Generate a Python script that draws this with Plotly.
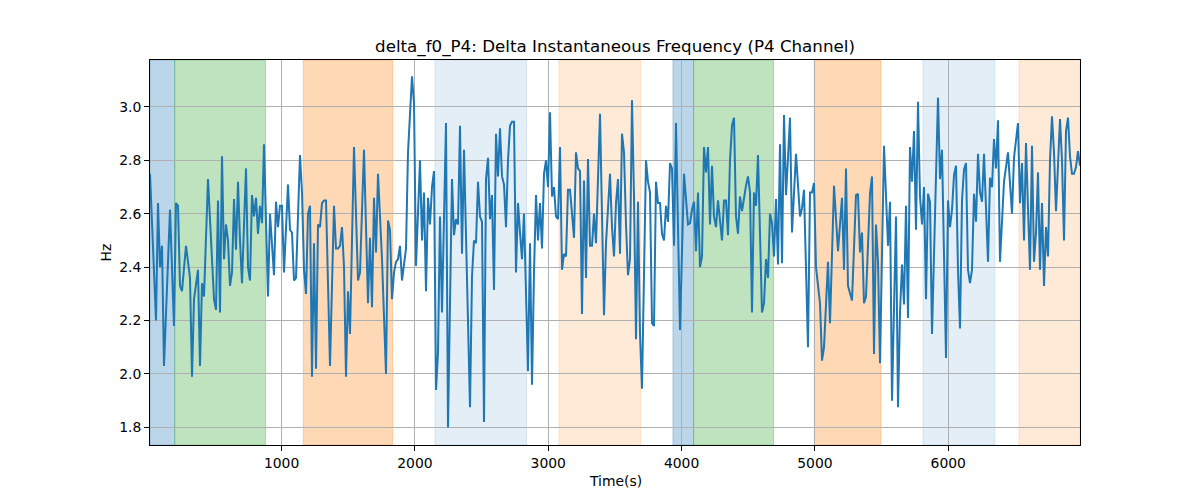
import plotly.graph_objects as go

# --- data ---
time_s = [
    13, 58, 73, 88, 103, 118, 163, 193, 208, 223, 238, 253, 283, 313, 328, 343, 373, 388, 403, 418,
    448, 493, 508, 523, 538, 553, 568, 583, 598, 613, 628, 643, 658, 673, 688, 703,
    733, 748, 763, 778, 793, 808, 823, 838, 853, 868, 898, 913, 943, 958, 973, 988, 1003, 1018, 1048, 1063,
    1078, 1093, 1108, 1138, 1153, 1168, 1183, 1198, 1213, 1228, 1243, 1258, 1273, 1288, 1303, 1318, 1333, 1363, 1393,
    1408, 1423, 1438, 1453, 1468, 1483, 1498, 1513, 1543, 1573, 1588, 1618, 1648, 1663, 1678, 1693, 1708, 1723, 1753, 1783,
    1798, 1813, 1828, 1843, 1858, 1873, 1888, 1903, 1933, 1948, 1978, 1993, 2008, 2038, 2053, 2068, 2083,
    2098, 2113, 2128, 2143, 2158, 2173, 2188, 2203, 2233, 2248, 2278, 2293, 2308, 2323, 2338, 2353, 2368, 2413, 2428, 2443,
    2458, 2473, 2488, 2503, 2518, 2533, 2548, 2563, 2578, 2593, 2608, 2623, 2638, 2653, 2668, 2683, 2698, 2713, 2728, 2743,
    2758, 2773,
    2788, 2803, 2818, 2833, 2848, 2863, 2878, 2893, 2908, 2923, 2938, 2953, 2968, 2983, 2998, 3013, 3028, 3043, 3058, 3073,
    3088, 3103, 3118, 3133, 3148, 3163, 3178, 3193, 3208, 3223, 3238, 3253, 3268, 3283, 3298, 3313, 3328, 3343, 3358, 3388,
    3418, 3433, 3463,
    3478, 3493, 3508, 3523, 3538, 3553, 3568, 3583, 3598, 3613, 3628, 3643, 3658, 3673, 3688, 3703, 3733, 3748, 3763, 3778,
    3793, 3808, 3823, 3838, 3853, 3868, 3883, 3898, 3913, 3928, 3943, 3958, 3988, 4018, 4048, 4063, 4078, 4093, 4108, 4123,
    4138,
    4153, 4168, 4183, 4198, 4213, 4228, 4243, 4258, 4273, 4303, 4318, 4333, 4348, 4363, 4378, 4393, 4408, 4423, 4438, 4453,
    4483, 4498, 4513, 4528, 4543, 4558, 4573, 4603, 4618, 4633, 4648, 4663, 4678, 4693, 4708, 4723, 4738, 4753, 4768, 4783,
    4798, 4813, 4828,
    4858, 4888, 4903, 4918, 4933, 4948, 4963, 4978, 4993, 5008, 5038, 5053, 5068, 5098, 5113, 5143, 5173, 5203, 5218, 5233,
    5248, 5278, 5308, 5323, 5338, 5353, 5368, 5383, 5413, 5428, 5443, 5458, 5473, 5488, 5518,
    5548, 5563, 5578, 5608, 5623, 5638, 5653, 5668, 5683, 5698, 5713, 5728, 5743, 5758, 5773, 5788, 5803, 5818, 5833, 5848,
    5863, 5878, 5923, 5938, 5953, 5983, 5998, 6013, 6028, 6043, 6058, 6073, 6088, 6103, 6118, 6133, 6148, 6163, 6178, 6193,
    6208, 6223,
    6238, 6253, 6268, 6298, 6313, 6328, 6343, 6358, 6373, 6388, 6418, 6448, 6478, 6493, 6523, 6538, 6553, 6568, 6583, 6598,
    6613, 6628, 6643, 6658, 6673, 6688, 6703, 6718, 6733, 6748, 6763, 6778, 6793, 6808, 6823, 6838, 6853, 6868, 6883, 6898,
    6913, 6928, 6943, 6958, 6973, 6988,
]

delta_hz = [
    2.75, 2.20, 2.64, 2.40, 2.48, 2.03, 2.615, 2.18, 2.64, 2.63, 2.33, 2.31, 2.48, 2.36, 1.99, 2.28, 2.39, 2.03, 2.34, 2.29,
    2.73, 2.28, 2.24, 2.65, 2.23, 2.815, 2.43, 2.56, 2.50, 2.33, 2.38, 2.655, 2.465, 2.72, 2.50, 2.34,
    2.77, 2.40, 2.35, 2.67, 2.59, 2.66, 2.525, 2.63, 2.565, 2.86, 2.29, 2.60, 2.37, 2.645, 2.55, 2.63, 2.63, 2.38, 2.71, 2.54,
    2.53, 2.35, 2.36, 2.82, 2.68, 2.39, 2.30, 2.60, 2.63, 1.99, 2.49, 2.02, 2.56, 2.55, 2.64, 2.65, 2.65, 2.03, 2.63,
    2.47, 2.47, 2.48, 2.55, 2.40, 1.99, 2.31, 2.15, 2.85, 2.35, 2.38, 2.84, 2.265, 2.51, 2.25, 2.66, 2.455, 2.75, 2.43, 2.00,
    2.575, 2.54, 2.28, 2.38, 2.42, 2.43, 2.48, 2.35, 2.47, 2.83, 3.115, 3.015, 2.405, 2.80, 2.50, 2.68, 2.31,
    2.66, 2.56, 2.70, 2.76, 1.94, 2.08, 2.59, 2.23, 2.94, 1.80, 2.73, 2.52, 2.58, 2.56, 2.93, 2.45, 2.84, 1.875, 2.365, 2.50,
    2.49, 2.72, 2.59, 2.57, 1.82, 2.73, 2.81, 2.58, 2.67, 2.315, 2.90, 2.74, 2.92, 2.74, 2.71, 2.55, 2.80, 2.93, 2.945, 2.945,
    2.38, 2.64,
    2.53, 2.43, 2.60, 2.25, 2.01, 2.49, 1.96, 2.38, 2.67, 2.50, 2.64, 2.47, 2.75, 2.80, 2.70, 2.98, 2.665, 2.70, 2.59, 2.58,
    2.85, 2.39, 2.45, 2.44, 2.69, 2.69, 2.58, 2.51, 2.83, 2.77, 2.76, 2.225, 2.725, 2.36, 2.805, 2.48, 2.48, 2.60, 2.49, 2.975,
    2.22, 2.49, 2.75,
    2.55, 2.44, 2.64, 2.73, 2.45, 2.90, 2.83, 2.56, 2.37, 2.43, 3.025, 2.665, 2.13, 2.645, 2.15, 1.945, 2.80, 2.72, 2.68, 2.19,
    2.18, 2.72, 2.64, 2.64, 2.525, 2.50, 2.63, 2.57, 2.79, 2.77, 2.48, 2.94, 2.165, 2.75, 2.56, 2.565, 2.615, 2.645, 2.46, 2.68,
    2.40,
    2.44, 2.85, 2.755, 2.85, 2.56, 2.78, 2.59, 2.55, 2.65, 2.50, 2.65, 2.65, 2.52, 2.80, 2.93, 2.96, 2.59, 2.525, 2.665, 2.61,
    2.705, 2.74, 2.68, 2.23, 2.68, 2.63, 2.82, 2.23, 2.265, 2.43, 2.36, 2.60, 2.565, 2.44, 2.655, 2.41, 2.86, 2.415, 2.97, 2.67,
    2.81, 2.96, 2.53,
    2.825, 2.59, 2.62, 2.69, 2.38, 2.10, 2.68, 2.68, 2.715, 2.40, 2.265, 2.05, 2.10, 2.42, 2.19, 2.705, 2.46, 2.66, 2.39, 2.77,
    2.33, 2.275, 2.67, 2.675, 2.455, 2.53, 2.265, 2.29, 2.675, 2.74, 2.075, 2.56, 2.42, 2.04, 2.855,
    2.48, 2.645, 1.90, 2.59, 1.875, 2.23, 2.41, 2.26, 2.63, 2.21, 2.85, 2.72, 2.91, 2.54, 3.02, 2.665, 2.56, 2.70, 2.28, 2.675,
    2.645, 2.15, 3.035, 2.73, 2.84, 2.06, 2.65, 2.55, 2.615, 2.745, 2.78, 2.39, 2.17, 2.65, 2.765, 2.79, 2.39, 2.34, 2.39, 2.675,
    2.57, 2.825,
    2.68, 2.645, 2.825, 2.42, 2.735, 2.70, 2.88, 2.77, 2.95, 2.42, 2.72, 2.83, 2.60, 2.81, 2.94, 2.64, 2.79, 2.50, 2.865, 2.62,
    2.39, 2.855, 2.42, 2.53, 2.755, 2.39, 2.64, 2.33, 2.55, 2.44, 2.80, 2.965, 2.83, 2.61, 2.78, 2.955, 2.80, 2.50, 2.91, 2.96,
    2.815, 2.75, 2.75, 2.775, 2.835, 2.78,
]

# shaded segments: start, end, colour name
span_starts = [13, 198, 1163, 2150, 3080, 3935, 4090, 4995, 5810, 6530]
span_ends = [198, 880, 1833, 2838, 3693, 4090, 4690, 5495, 6350, 6988]
span_kinds = ["blue", "green", "orange", "lightblue", "lightorange",
              "blue", "green", "orange", "lightblue", "lightorange"]

y_ticks = [1.8, 2.0, 2.2, 2.4, 2.6, 2.8, 3.0]
x_ticks = [1000, 2000, 3000, 4000, 5000, 6000]

span_style = {
    "blue": "rgba(31,119,180,0.30)",
    "green": "rgba(44,160,44,0.30)",
    "orange": "rgba(255,127,14,0.30)",
    "lightblue": "rgba(31,119,180,0.12)",
    "lightorange": "rgba(255,127,14,0.16)",
}

fig = go.Figure()
fig.add_trace(go.Scatter(x=time_s, y=delta_hz, mode="lines",
                         line=dict(color="#1f77b4", width=2), showlegend=False))

for s, e, k in zip(span_starts, span_ends, span_kinds):
    c = span_style[k]
    fig.add_shape(type="rect", xref="x", yref="paper", x0=s, x1=e, y0=0, y1=1,
                  fillcolor=c, line=dict(color=c, width=1), layer="below")

# The page body adds an 8px offset; the figure is sized so the plot sits where the reference has it.
W, H = 1192, 492
font = "DejaVu Sans, Arial, sans-serif"
fig.update_layout(
    width=W, height=H,
    margin=dict(l=142, r=120, t=52, b=55),
    paper_bgcolor="white", plot_bgcolor="white",
    font=dict(family=font, size=13.9, color="black"),
    title=dict(text="delta_f0_P4: Delta Instantaneous Frequency (P4 Channel)",
               x=607 / W, xanchor="center", xref="container",
               y=1 - 38 / H, yanchor="middle", yref="container",
               font=dict(family=font, size=16.7, color="black")),
    showlegend=False,
)
fig.update_xaxes(range=[13, 6988], tickvals=x_ticks, ticktext=[str(v) for v in x_ticks],
                 showgrid=True, gridcolor="#b0b0b0", gridwidth=0.8,
                 showline=True, linecolor="black", linewidth=1, mirror=True,
                 ticks="outside", ticklen=5, tickcolor="black", zeroline=False)
fig.update_yaxes(range=[1.734, 3.176], tickvals=y_ticks, ticktext=[f"{v:.1f}" for v in y_ticks],
                 showgrid=True, gridcolor="#b0b0b0", gridwidth=0.8,
                 showline=True, linecolor="black", linewidth=1, mirror=True,
                 ticks="outside", ticklen=5, tickcolor="black", zeroline=False)

fig.add_annotation(text="Time(s)", xref="paper", yref="paper", x=0.5, y=-(481 - 445) / 385,
                   xanchor="center", yanchor="middle", showarrow=False,
                   font=dict(family=font, size=13.9, color="black"))
fig.add_annotation(text="Hz", xref="paper", yref="paper", x=-(150 - 105) / 930, y=0.5,
                   xanchor="center", yanchor="middle", showarrow=False, textangle=-90,
                   font=dict(family=font, size=13.9, color="black"))

fig.write_html("out.html")
